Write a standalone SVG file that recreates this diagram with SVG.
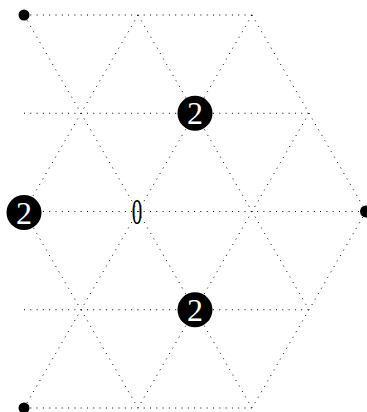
<svg xmlns="http://www.w3.org/2000/svg" width="367" height="412" viewBox="0 0 367 412">
<style>
.e{stroke:#000;stroke-width:1;stroke-dasharray:1 5.3;fill:none}
.dot{fill:#000}
.bn{fill:#000}
.lb{font-family:"Liberation Serif","DejaVu Serif",serif;fill:#fff;font-size:32px;text-anchor:middle}
.z{font-family:"Liberation Serif","DejaVu Serif",serif;fill:#000;font-size:35px;text-anchor:middle}
</style>
<rect width="367" height="412" fill="#fff"/>
<g id="connectors">
<line class="e" x1="24" y1="15" x2="252" y2="15"/>
<line class="e" x1="24" y1="113.25" x2="309" y2="113.25"/>
<line class="e" x1="24" y1="211.5" x2="366" y2="211.5"/>
<line class="e" x1="24" y1="309.75" x2="309" y2="309.75"/>
<line class="e" x1="24" y1="408" x2="252" y2="408"/>
<line class="e" x1="24" y1="15" x2="252" y2="408"/>
<line class="e" x1="138" y1="15" x2="309" y2="309.75"/>
<line class="e" x1="252" y1="15" x2="366" y2="211.5"/>
<line class="e" x1="24" y1="211.5" x2="138" y2="408"/>
<line class="e" x1="138" y1="15" x2="24" y2="211.5"/>
<line class="e" x1="252" y1="15" x2="24" y2="408"/>
<line class="e" x1="309" y1="113.25" x2="138" y2="408"/>
<line class="e" x1="366" y1="211.5" x2="252" y2="408"/>
</g>
<g id="n_tl"><circle class="dot" cx="24" cy="15" r="5.5"/></g>
<g id="n_r"><circle class="dot" cx="366" cy="211.5" r="6"/></g>
<g id="n_bl"><circle class="dot" cx="24" cy="408" r="5.5"/></g>
<g id="n_top2"><circle class="bn" cx="195" cy="113.25" r="17.5"/><text class="lb" x="195" y="124.3">2</text></g>
<g id="n_left2"><circle class="bn" cx="24" cy="212.5" r="17.5"/><text class="lb" x="24" y="223.6">2</text></g>
<g id="n_bot2"><circle class="bn" cx="195" cy="309.75" r="17.5"/><text class="lb" x="195" y="320.8">2</text></g>
<g id="n_zero"><text class="z" transform="translate(137,224) scale(0.6,1)" x="0" y="0">0</text></g>
</svg>
